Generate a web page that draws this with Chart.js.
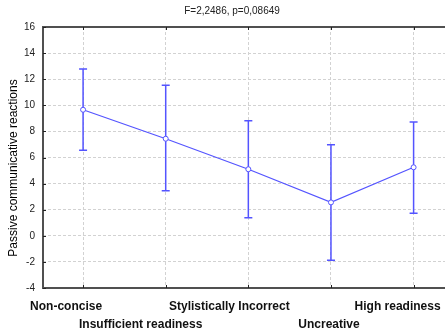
<!DOCTYPE html>
<html>
<head>
<meta charset="utf-8">
<script src="https://cdn.jsdelivr.net/npm/chart.js@4/dist/chart.umd.min.js"></script>
<style>
  html, body { margin: 0; padding: 0; background: #fff; overflow: hidden; }
  #wrap { position: relative; width: 445px; height: 331px; }
</style>
</head>
<body>
<div id="wrap"><canvas id="anovaChart" width="445" height="331"></canvas></div>
<script>
// ==========================================
// 1. DATA
// ==========================================
const categories = ['Non-concise', 'Insufficient readiness', 'Stylistically Incorrect', 'Uncreative', 'High readiness'];
const means = [9.66, 7.44, 5.10, 2.56, 5.25];
const upperCI = [12.78, 11.53, 8.82, 6.98, 8.72];
const lowerCI = [6.55, 3.46, 1.39, -1.88, 1.72];
const yTickValues = [-4, -2, 0, 2, 4, 6, 8, 10, 12, 14, 16];

const chartTitle = 'F=2,2486, p=0,08649';
const yTitle = 'Passive communicative reactions';

// ==========================================
// 2. LOOK
// ==========================================
const BLUE = '#5454ff';
const FONT = "'Liberation Sans', Arial, sans-serif";
const labelNudge = [-17, -25, -19, -2, -16];  // label offsets as in the original export
const labelRow = [22, 40];                      // baseline below plot bottom

// error bars, drawn behind the points
const errorBars = {
  id: 'errorBars',
  beforeDatasetsDraw(chart) {
    const { ctx, scales: { x, y } } = chart;
    ctx.save();
    ctx.strokeStyle = BLUE;
    ctx.lineWidth = 1.5;
    means.forEach((m, i) => {
      const px = x.getPixelForValue(i);
      const top = y.getPixelForValue(upperCI[i]);
      const bot = y.getPixelForValue(lowerCI[i]);
      ctx.beginPath();
      ctx.moveTo(px, top); ctx.lineTo(px, bot);
      ctx.moveTo(px - 4, top); ctx.lineTo(px + 4, top);
      ctx.moveTo(px - 4, bot); ctx.lineTo(px + 4, bot);
      ctx.stroke();
    });
    ctx.restore();
  }
};

// frame, small inner ticks, staggered category labels, titles
const decorations = {
  id: 'decorations',
  afterDraw(chart) {
    const { ctx, chartArea: a, scales: { x, y } } = chart;
    ctx.save();
    ctx.strokeStyle = '#505050';
    ctx.lineWidth = 2;
    ctx.beginPath();
    ctx.moveTo(a.right + 2, a.top); ctx.lineTo(a.left, a.top);
    ctx.lineTo(a.left, a.bottom); ctx.lineTo(a.right + 2, a.bottom);
    ctx.stroke();

    ctx.strokeStyle = '#222';
    ctx.lineWidth = 1;
    ctx.beginPath();
    categories.forEach((c, i) => {
      const px = Math.round(x.getPixelForValue(i)) + 0.5;
      ctx.moveTo(px, a.bottom); ctx.lineTo(px, a.bottom - 3);
      ctx.moveTo(px, a.top); ctx.lineTo(px, a.top + 3);
    });
    yTickValues.forEach(v => {
      const py = Math.round(y.getPixelForValue(v)) + 0.5;
      ctx.moveTo(a.left, py); ctx.lineTo(a.left + 3, py);
    });
    ctx.stroke();

    ctx.fillStyle = '#111';
    ctx.font = 'bold 12px ' + FONT;
    ctx.textAlign = 'center';
    ctx.textBaseline = 'alphabetic';
    categories.forEach((c, i) => {
      ctx.fillText(c, x.getPixelForValue(i) + labelNudge[i], a.bottom + labelRow[i % 2]);
    });

    ctx.fillStyle = '#222';
    ctx.font = '10px ' + FONT;
    ctx.fillText(chartTitle, 232, 14);

    ctx.fillStyle = '#000';
    ctx.font = '12px ' + FONT;
    ctx.translate(14, 168);
    ctx.rotate(-Math.PI / 2);
    ctx.textBaseline = 'middle';
    ctx.fillText(yTitle, 0, 0);
    ctx.restore();
  }
};

// ==========================================
// 3. CHART
// ==========================================
new Chart(document.getElementById('anovaChart'), {
  type: 'line',
  data: {
    datasets: [{
      data: means.map((m, i) => ({ x: i, y: m })),
      borderColor: BLUE,
      borderWidth: 1.2,
      pointRadius: 2.5,
      pointBorderWidth: 1,
      pointBackgroundColor: '#fff',
      pointBorderColor: BLUE,
      tension: 0
    }]
  },
  options: {
    responsive: false,
    animation: false,
    layout: { autoPadding: false, padding: { top: 27, left: 0, right: 0, bottom: 0 } },
    plugins: { legend: { display: false }, tooltip: { enabled: false }, title: { display: false } },
    scales: {
      x: {
        type: 'linear',
        min: -0.485,
        max: 4.38,
        afterBuildTicks: (s) => { s.ticks = categories.map((c, i) => ({ value: i })); },
        afterFit: (s) => { s.height = 43; },
        ticks: { display: false },
        grid: { color: '#d2d2d2', lineWidth: 1, drawTicks: false },
        border: { display: false, dash: [3, 2] }
      },
      y: {
        min: -4,
        max: 16,
        afterBuildTicks: (s) => { s.ticks = yTickValues.map(v => ({ value: v })); },
        afterFit: (s) => { s.width = 43; },
        ticks: { color: '#222', font: { size: 10, family: FONT }, padding: 8 },
        grid: { color: '#d2d2d2', lineWidth: 1, drawTicks: false },
        border: { display: false, dash: [3, 2] }
      }
    }
  },
  plugins: [errorBars, decorations]
});
</script>
</body>
</html>
